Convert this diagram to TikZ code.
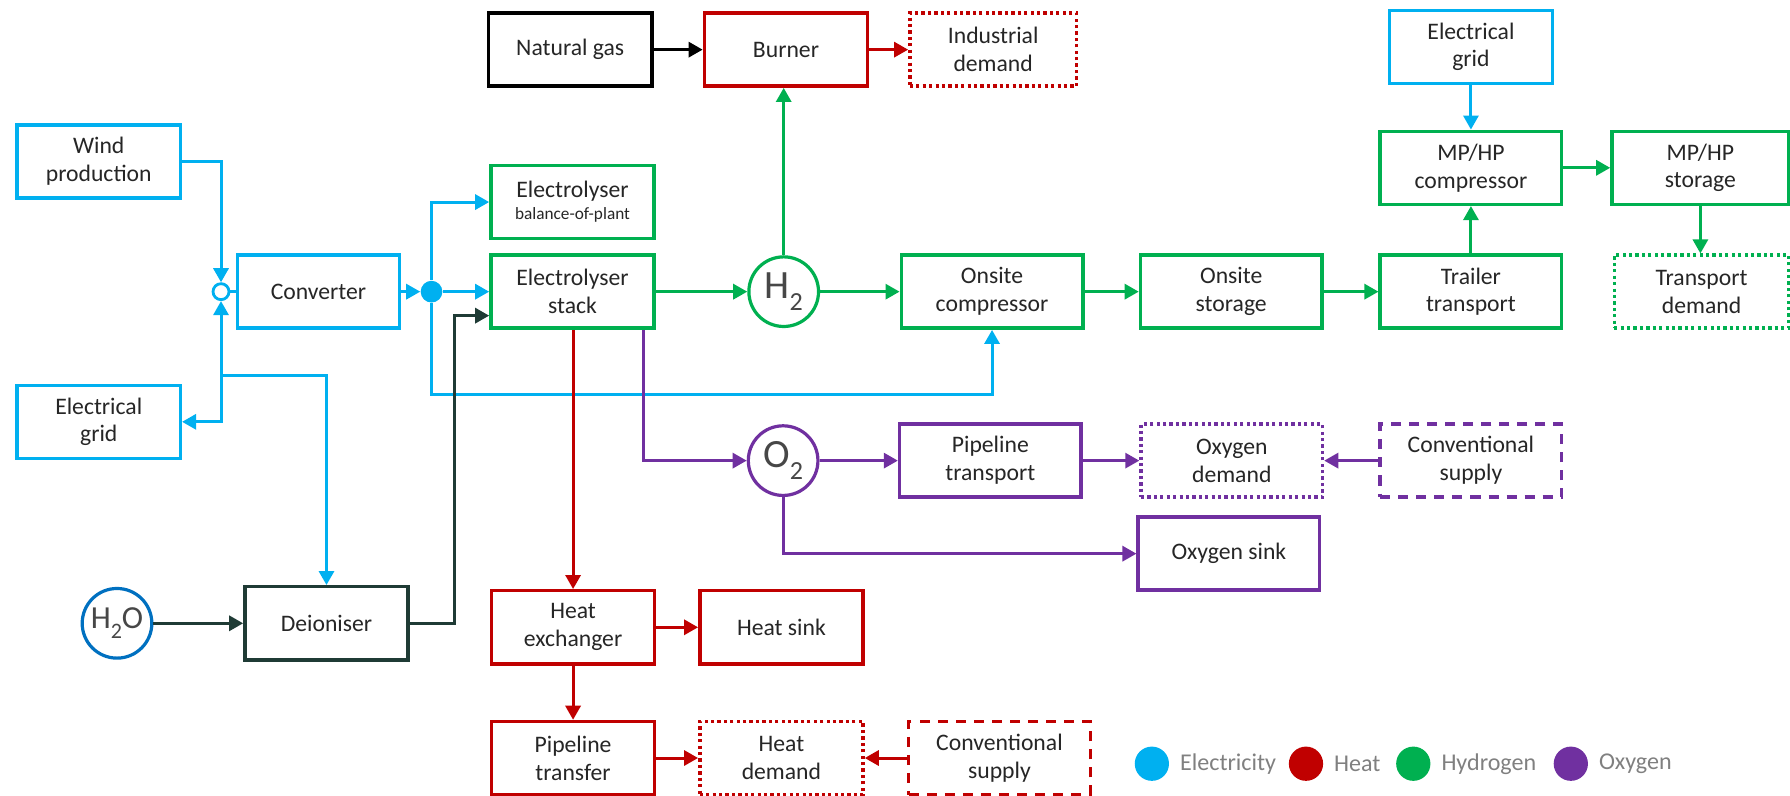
\documentclass[tikz,border=0pt]{standalone}
\usepackage{fontspec}
\setmainfont{Carlito}
\usepackage{tikz}
\usetikzlibrary{arrows.meta,positioning}
\definecolor{elec}{HTML}{00B0F0}
\definecolor{heat}{HTML}{C00000}
\definecolor{hydro}{HTML}{00B050}
\definecolor{oxy}{HTML}{7030A0}
\definecolor{water}{HTML}{0070C0}
\definecolor{slate}{HTML}{1F3B35}
\definecolor{txt}{HTML}{262626}

\begin{document}
\begin{tikzpicture}[x=2mm, y=2mm, >={Triangle[length=7pt,width=7.5pt]},
	box/.style={draw, line width=1.7pt, fill=white, text=txt, align=center, inner sep=0pt, minimum width=2.86cm, minimum height=1.28cm, font=\fontsize{11.8}{13.9}\selectfont},
	wide/.style={box, minimum width=3.18cm},
	dotbox/.style={dash pattern=on 1.6pt off 1.6pt},
	dashbox/.style={dash pattern=on 5pt off 4pt},
	ball/.style={circle, draw, line width=1.6pt, fill=white, text=txt!85, inner sep=0pt, minimum size=1.22cm, font=\fontsize{20}{20}\selectfont},
	flow/.style={line width=1.5pt},
	key/.style={circle, inner sep=0pt, minimum size=0.6cm},
	keytext/.style={inner sep=0pt, text=black!50, font=\fontsize{12}{12}\selectfont}]
			\useasboundingbox (0, 0) rectangle (156.8, 69.7);
			\node [elec, box] (wind) at (8.65, 55.55) {Wind\\production};
			\node [elec, box] (gridL) at (8.65, 32.75) {Electrical\\grid};
			\node [circle, draw=elec, line width=1.4pt, fill=white, inner sep=0pt, minimum size=0.28cm] (jn) at (19.36, 44.15) {};
			\coordinate (jd) at (19.36, 36.85);
			\node [elec, box, minimum width=2.84cm] (conv) at (27.9, 44.15) {Converter};
			\node [circle, fill=elec, inner sep=0pt, minimum size=0.38cm] (dot) at (37.8, 44.15) {};
			\node [water, ball, font=\fontsize{16}{16}\selectfont] (h2o) at (10.25, 15.1) {H\raisebox{-5pt}{\fontsize{11}{11}\selectfont 2}O};
			\node [slate, box] (deion) at (28.6, 15.1) {Deioniser};
			\node [black, box] (ngas) at (49.95, 65.35) {Natural gas};
			\node [heat, box] (burner) at (68.85, 65.35) {Burner};
			\node [heat, box, dotbox, minimum width=2.92cm] (ind) at (87, 65.35) {Industrial\\demand};
			\node [hydro, box] (bop) at (50.15, 52) {Electrolyser\\[-3pt]{\fontsize{8.6}{9}\selectfont balance-of-plant}};
			\node [hydro, box] (stack) at (50.15, 44.15) {Electrolyser\\stack};
			\node [hydro, ball] (h2) at (68.65, 44.15) {H\raisebox{-6pt}{\fontsize{13}{13}\selectfont 2}};
			\node [hydro, wide] (onc) at (86.9, 44.15) {Onsite\\compressor};
			\node [hydro, wide] (ons) at (107.85, 44.15) {Onsite\\storage};
			\node [hydro, wide] (trail) at (128.85, 44.15) {Trailer\\transport};
			\node [hydro, wide] (mpc) at (128.85, 55) {MP/HP\\compressor};
			\node [elec, box] (gridR) at (128.85, 65.6) {Electrical\\grid};
			\node [hydro, wide, minimum width=3.1cm] (mps) at (148.95, 55) {MP/HP\\storage};
			\node [hydro, wide, dotbox, minimum width=3.06cm] (trdem) at (149.05, 44.15) {Transport\\demand};
			\node [oxy, ball] (o2) at (68.6, 29.35) {O\raisebox{-6pt}{\fontsize{13}{13}\selectfont 2}};
			\node [oxy, wide] (ptrp) at (86.75, 29.35) {Pipeline\\transport};
			\node [oxy, wide, dotbox] (oxdem) at (107.9, 29.35) {Oxygen\\demand};
			\node [oxy, wide, dashbox] (csupO) at (128.85, 29.35) {Conventional\\supply};
			\node [oxy, wide] (sink) at (107.65, 21.2) {Oxygen sink};
			\node [heat, box] (hx) at (50.2, 14.75) {Heat\\exchanger};
			\node [heat, box] (hsink) at (68.45, 14.75) {Heat sink};
			\node [heat, box] (ptrans) at (50.2, 3.3) {Pipeline\\transfer};
			\node [heat, box, dotbox] (hdem) at (68.45, 3.3) {Heat\\demand};
			\node [heat, wide, dashbox] (csupH) at (87.55, 3.3) {Conventional\\supply};
			\draw [flow, elec, ->] (dot.south) -- ++(0, -8.05) -| (onc.south);
			\draw [flow, elec, ->] (wind.east) -| (jn.north);
			\draw [flow, elec, <->] (gridL.east) -| (jn.south);
			\draw [flow, elec] (jn.east) -- (conv.west);
			\draw [flow, elec, ->] (jd) -| (deion.north);
			\draw [flow, elec, ->] (conv.east) -- (dot.west);
			\draw [flow, elec, ->] (dot.east) -- (stack.west);
			\draw [flow, elec, ->] (dot.north) |- (bop.west);
			\draw [flow, elec, ->] (gridR.south) -- (mpc.north);
			\draw [flow, slate, ->] (h2o.east) -- (deion.west);
			\draw [flow, slate, ->] (deion.east) -- ++(3.9, 0) |- ([yshift=-0.42cm]stack.west);
			\draw [flow, black, ->] (ngas.east) -- (burner.west);
			\draw [flow, heat, ->] (burner.east) -- (ind.west);
			\draw [flow, hydro, ->] (stack.east) -- (h2.west);
			\draw [flow, hydro, ->] (h2.north) -- (h2.north |- burner.south);
			\draw [flow, hydro, ->] (h2.east) -- (onc.west);
			\draw [flow, hydro, ->] (onc.east) -- (ons.west);
			\draw [flow, hydro, ->] (ons.east) -- (trail.west);
			\draw [flow, hydro, ->] (trail.north) -- (mpc.south);
			\draw [flow, hydro, ->] (mpc.east) -- (mps.west);
			\draw [flow, hydro, ->] (mps.south) -- (mps.south |- trdem.north);
			\draw [flow, heat, ->] (hx.north |- stack.south) -- (hx.north);
			\draw [flow, heat, ->] (hx.east) -- (hsink.west);
			\draw [flow, heat, ->] (hx.south) -- (ptrans.north);
			\draw [flow, heat, ->] (ptrans.east) -- (hdem.west);
			\draw [flow, heat, ->] (csupH.west) -- (hdem.east);
			\draw [flow, oxy, ->] ([xshift=-0.22cm]stack.south east) |- (o2.west);
			\draw [flow, oxy, ->] (o2.east) -- (ptrp.west);
			\draw [flow, oxy, ->] (ptrp.east) -- (oxdem.west);
			\draw [flow, oxy, ->] (csupO.west) -- (oxdem.east);
			\draw [flow, oxy, ->] (o2.south) |- (sink.west);
			\node [key, fill=elec] (kelec) at (100.9, 2.8) {};
			\node [keytext, right=0.18cm of kelec] (telec) {Electricity};
			\node [key, fill=heat] (kheat) at (114.4, 2.8) {};
			\node [keytext, right=0.18cm of kheat] (theat) {Heat};
			\node [key, fill=hydro] (khydro) at (123.8, 2.8) {};
			\node [keytext, right=0.18cm of khydro] (thydro) {Hydrogen};
			\node [key, fill=oxy] (koxy) at (137.6, 2.8) {};
			\node [keytext, right=0.18cm of koxy] (toxy) {Oxygen};
		\end{tikzpicture}
\end{document}
